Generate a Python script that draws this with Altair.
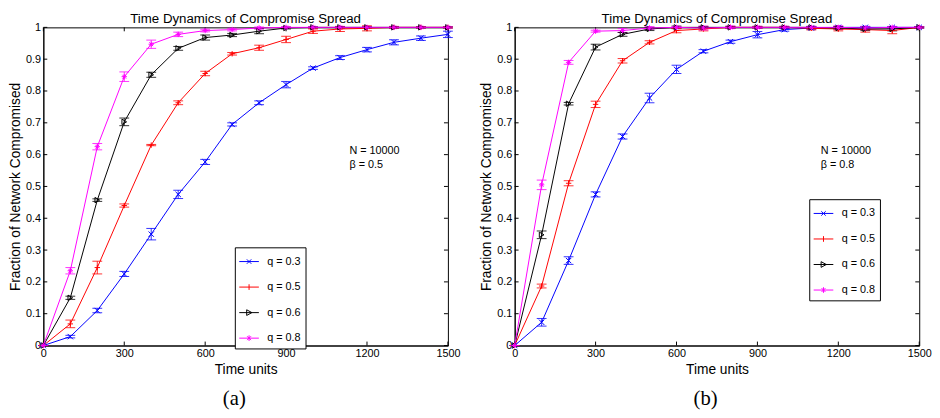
import altair as alt
import pandas as pd

FONT = "Liberation Sans"
SERIF = "Liberation Serif"

time_units = [0, 100, 200, 300, 400, 500, 600, 700, 800, 900, 1000, 1100, 1200, 1300, 1400, 1500]
series_names = ["q = 0.3", "q = 0.5", "q = 0.6", "q = 0.8"]
series_colors = ["#0000ff", "#ff0000", "#000000", "#ff00ff"]

# panel (a): beta = 0.5
a_q03 = [0, 0.028, 0.110, 0.225, 0.350, 0.475, 0.577, 0.695, 0.763, 0.820, 0.872, 0.905, 0.930, 0.953, 0.966, 0.978]
a_q03_err = [0, 0.004, 0.007, 0.008, 0.018, 0.013, 0.008, 0.005, 0.006, 0.010, 0.004, 0.006, 0.007, 0.008, 0.007, 0.010]
a_q05 = [0, 0.068, 0.245, 0.440, 0.630, 0.763, 0.855, 0.917, 0.936, 0.962, 0.988, 0.995, 0.997, 1.0, 1.0, 1.0]
a_q05_err = [0, 0.012, 0.020, 0.005, 0.002, 0.006, 0.007, 0.004, 0.008, 0.010, 0.007, 0.008, 0.008, 0.003, 0.002, 0.002]
a_q06 = [0, 0.150, 0.457, 0.703, 0.851, 0.934, 0.968, 0.976, 0.988, 0.998, 1.0, 1.0, 1.0, 1.0, 1.0, 1.0]
a_q06_err = [0, 0.005, 0.004, 0.012, 0.008, 0.006, 0.008, 0.005, 0.008, 0.003, 0.002, 0.002, 0.002, 0.002, 0.002, 0.002]
a_q08 = [0, 0.235, 0.625, 0.845, 0.947, 0.978, 0.990, 0.993, 0.998, 1.0, 1.0, 1.0, 1.0, 1.0, 1.0, 1.0]
a_q08_err = [0, 0.010, 0.010, 0.015, 0.013, 0.007, 0.004, 0.004, 0.003, 0.002, 0.002, 0.002, 0.002, 0.002, 0.002, 0.002]

# panel (b): beta = 0.8
b_q03 = [0, 0.073, 0.267, 0.475, 0.657, 0.778, 0.868, 0.925, 0.955, 0.977, 0.993, 0.998, 1.0, 1.0, 1.0, 1.0]
b_q03_err = [0, 0.012, 0.012, 0.008, 0.008, 0.015, 0.013, 0.005, 0.005, 0.010, 0.005, 0.004, 0.003, 0.003, 0.002, 0.002]
b_q05 = [0, 0.187, 0.510, 0.758, 0.895, 0.953, 0.990, 0.995, 1.0, 1.0, 1.0, 0.997, 0.995, 0.993, 0.990, 1.0]
b_q05_err = [0, 0.006, 0.008, 0.010, 0.007, 0.005, 0.007, 0.006, 0.003, 0.003, 0.003, 0.005, 0.006, 0.008, 0.010, 0.002]
b_q06 = [0, 0.348, 0.760, 0.938, 0.978, 0.995, 1.0, 1.0, 1.0, 1.0, 1.0, 1.0, 0.998, 0.995, 0.995, 1.0]
b_q06_err = [0, 0.012, 0.004, 0.009, 0.006, 0.005, 0.004, 0.003, 0.003, 0.003, 0.003, 0.003, 0.004, 0.005, 0.006, 0.002]
b_q08 = [0, 0.505, 0.890, 0.988, 0.990, 0.998, 1.0, 0.998, 1.0, 1.0, 1.0, 1.0, 1.0, 0.998, 1.0, 1.0]
b_q08_err = [0, 0.015, 0.006, 0.003, 0.006, 0.004, 0.003, 0.006, 0.004, 0.003, 0.003, 0.003, 0.005, 0.005, 0.003, 0.002]

x_ticks = [0, 300, 600, 900, 1200, 1500]
y_ticks = [0, 0.1, 0.2, 0.3, 0.4, 0.5, 0.6, 0.7, 0.8, 0.9, 1.0]

marker_paths = [
    "M-1,-1L1,1M-1,1L1,-1",
    "M-1,0L1,0M0,-1L0,1",
    "triangle-right",
    "M-1,0L1,0M0,-1L0,1M-0.7,-0.7L0.7,0.7M-0.7,0.7L0.7,-0.7",
]
legend_paths = [
    "M-1.11,0L1.11,0M-0.25,-0.25L0.25,0.25M-0.25,0.25L0.25,-0.25",
    "M-1.11,0L1.11,0M0,-0.32L0,0.32",
    "M-1.11,0L1.11,0M-0.27,-0.32L0.32,0L-0.27,0.32Z",
    "M-1.11,0L1.11,0M0,-0.32L0,0.32M-0.22,-0.22L0.22,0.22M-0.22,0.22L0.22,-0.22",
]

W, H = 412, 324
X_TITLE = "Time units"
Y_TITLE = "Fraction of Network Compromised"


def build_df(series_vals, series_errs):
    rows = []
    for name, col, mk, vals, errs in zip(series_names, series_colors, marker_paths, series_vals, series_errs):
        for t, v, e in zip(time_units, vals, errs):
            rows.append({"t": t, "y": v, "lo": v - e, "hi": v + e,
                         "series": name, "color": col, "marker": mk})
    return pd.DataFrame(rows)


def panel(df, ann_text, leg_x, leg_y, caption):
    xs = alt.Scale(domain=[0, 1500], nice=False)
    ys = alt.Scale(domain=[0, 1], nice=False)
    xax = alt.Axis(values=x_ticks, format="d", title=X_TITLE, tickCount=6)
    yax = alt.Axis(values=y_ticks, format=".1~f", title=Y_TITLE, tickCount=11)
    X = alt.X("t:Q", scale=xs, axis=xax)
    Y = alt.Y("y:Q", scale=ys, axis=yax)
    YLO = alt.Y("lo:Q", scale=ys, axis=yax)
    YHI = alt.Y("hi:Q", scale=ys, axis=yax)
    C = alt.Color("color:N", scale=None)
    base = alt.Chart(df)

    lines = base.mark_line(strokeWidth=1).encode(x=X, y=Y, color=C, detail="series:N")
    bars = base.mark_rule(strokeWidth=1, opacity=0.8).encode(x=X, y=YLO, y2="hi:Q", color=C)
    cap_lo = base.mark_point(shape="M-1,0L1,0", size=100, strokeWidth=1, filled=False, opacity=0.8).encode(
        x=X, y=YLO, color=C)
    cap_hi = base.mark_point(shape="M-1,0L1,0", size=100, strokeWidth=1, filled=False, opacity=0.8).encode(
        x=X, y=YHI, color=C)
    pts = base.mark_point(filled=False, size=30, strokeWidth=1, opacity=1).encode(
        x=X, y=Y, color=C, shape=alt.Shape("marker:N", scale=None))

    leg = alt.Legend(title=None, orient="none", legendX=leg_x, legendY=leg_y,
                     strokeColor="black", fillColor="white", padding=5,
                     symbolSize=324, symbolStrokeWidth=1, symbolOpacity=1,
                     rowPadding=11, labelOffset=9, labelFont=FONT, labelFontSize=11,
                     labelColor="black")
    legend_layer = base.mark_point(opacity=0, filled=False).encode(
        x=X, y=Y,
        color=alt.Color("series:N", scale=alt.Scale(domain=series_names, range=series_colors), legend=leg),
        shape=alt.Shape("series:N", scale=alt.Scale(domain=series_names, range=legend_paths), legend=leg),
    )

    ann = alt.Chart(pd.DataFrame({"label": [ann_text]})).mark_text(
        align="left", baseline="middle", font=FONT, fontSize=11, color="black",
        lineBreak="\n", lineHeight=15).encode(
        x=alt.XDatum(1135, scale=xs, axis=xax), y=alt.YDatum(0.612, scale=ys, axis=yax), text="label:N")

    ydf = alt.Chart(pd.DataFrame({"y": y_ticks}))
    xdf = alt.Chart(pd.DataFrame({"t": x_ticks}))
    tk_l = ydf.mark_rule(color="black", strokeWidth=1).encode(y=Y, x=alt.value(0), x2=alt.value(4))
    tk_r = ydf.mark_rule(color="black", strokeWidth=1).encode(y=Y, x=alt.value(W - 4), x2=alt.value(W))
    tk_b = xdf.mark_rule(color="black", strokeWidth=1).encode(x=X, y=alt.value(H - 4), y2=alt.value(H))
    tk_t = xdf.mark_rule(color="black", strokeWidth=1).encode(x=X, y=alt.value(0), y2=alt.value(4))

    layered = alt.layer(tk_l, tk_r, tk_b, tk_t, bars, cap_lo, cap_hi, lines, pts, legend_layer, ann).properties(
        width=W, height=H,
        title=alt.TitleParams("Time Dynamics of Compromise Spread", font=FONT, fontSize=13.5,
                              fontWeight="normal", color="black", offset=-4, frame="group"),
    ).resolve_scale(color="independent", shape="independent")

    return alt.vconcat(layered).properties(
        title=alt.TitleParams(caption, orient="bottom", font=SERIF, fontSize=21,
                              fontWeight="normal", color="black", offset=12, anchor="middle"))


df_a = build_df([a_q03, a_q05, a_q06, a_q08], [a_q03_err, a_q05_err, a_q06_err, a_q08_err])
df_b = build_df([b_q03, b_q05, b_q06, b_q08], [b_q03_err, b_q05_err, b_q06_err, b_q08_err])

left = panel(df_a, "N = 10000\nβ = 0.5", 195, 224, "(a)")
right = panel(df_b, "N = 10000\nβ = 0.8", 300, 175, "(b)")

chart = alt.hconcat(left, right, spacing=19).properties(padding=0).resolve_scale(
    color="independent", shape="independent").resolve_legend(color="independent", shape="independent").configure_view(
    stroke="black", strokeWidth=1
).configure_axis(
    labelFont=FONT, labelFontSize=11, labelColor="black", titleFont=FONT, titleFontSize=14,
    titleFontWeight="normal", titleColor="black", domainColor="black", domainWidth=1,
    ticks=False, grid=False, labelPadding=3, titlePadding=3, labelFlush=False, labelOverlap=False
).configure_axisX(labelPadding=2, titlePadding=4)

chart.save("out.html", embed_options={"renderer": "svg", "actions": False})
